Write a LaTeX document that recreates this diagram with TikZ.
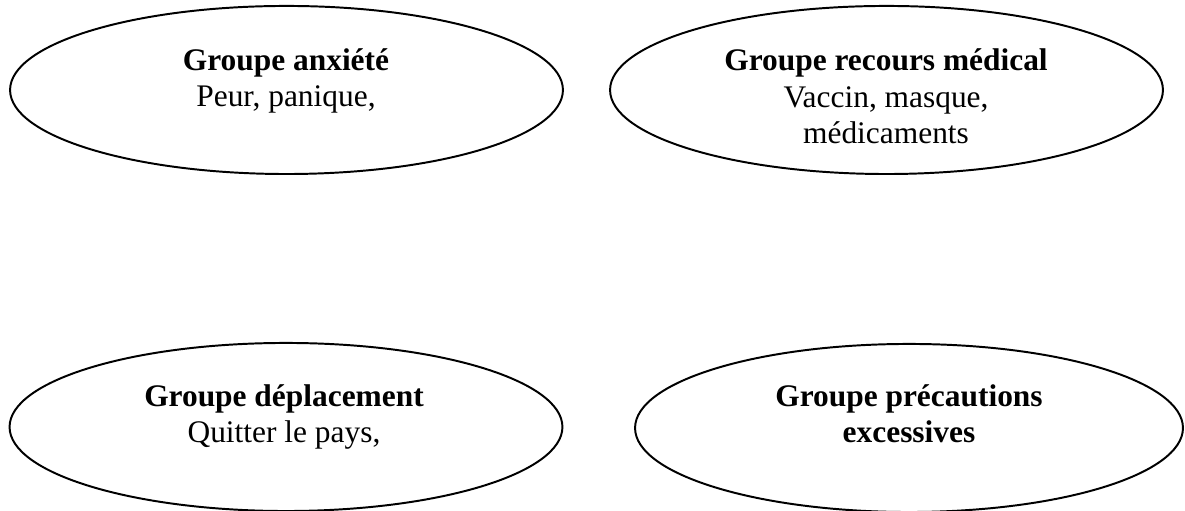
\documentclass[tikz,border=0pt]{standalone}
\usepackage{fontspec}
\setmainfont{Liberation Serif}
\usetikzlibrary{shapes.geometric}

\begin{document}
\begin{tikzpicture}
[x=0.382pt,y=0.382pt,
 grp/.style={draw,ellipse,line width=0.75pt,inner sep=0pt,minimum width=211.2pt,minimum height=64.2pt},
 txt/.style={anchor=base,align=center,inner sep=0pt,font=\fontsize{12}{14.1}\selectfont}]
\useasboundingbox (0,0) rectangle (1185,511);
\node[grp] (anx) at (286.5,421) {};
\node[grp] (med) at (886.5,421) {};
\node[grp] (dep) at (286,84) {};
\node[grp,minimum width=209.3pt] (pre) at (909,83) {};
% base = baseline of the last line
\node[txt] (anxt) at (286,404) {\textbf{Groupe anxiété}\\Peur, panique,};
\node[txt] (medt) at (886,367) {\textbf{Groupe recours médical}\\Vaccin, masque,\\médicaments};
\node[txt] (dept) at (284,68) {\textbf{Groupe déplacement}\\Quitter le pays,};
\node[txt] (pret) at (909,68) {\textbf{Groupe précautions}\\\textbf{excessives}};
\end{tikzpicture}
\end{document}
